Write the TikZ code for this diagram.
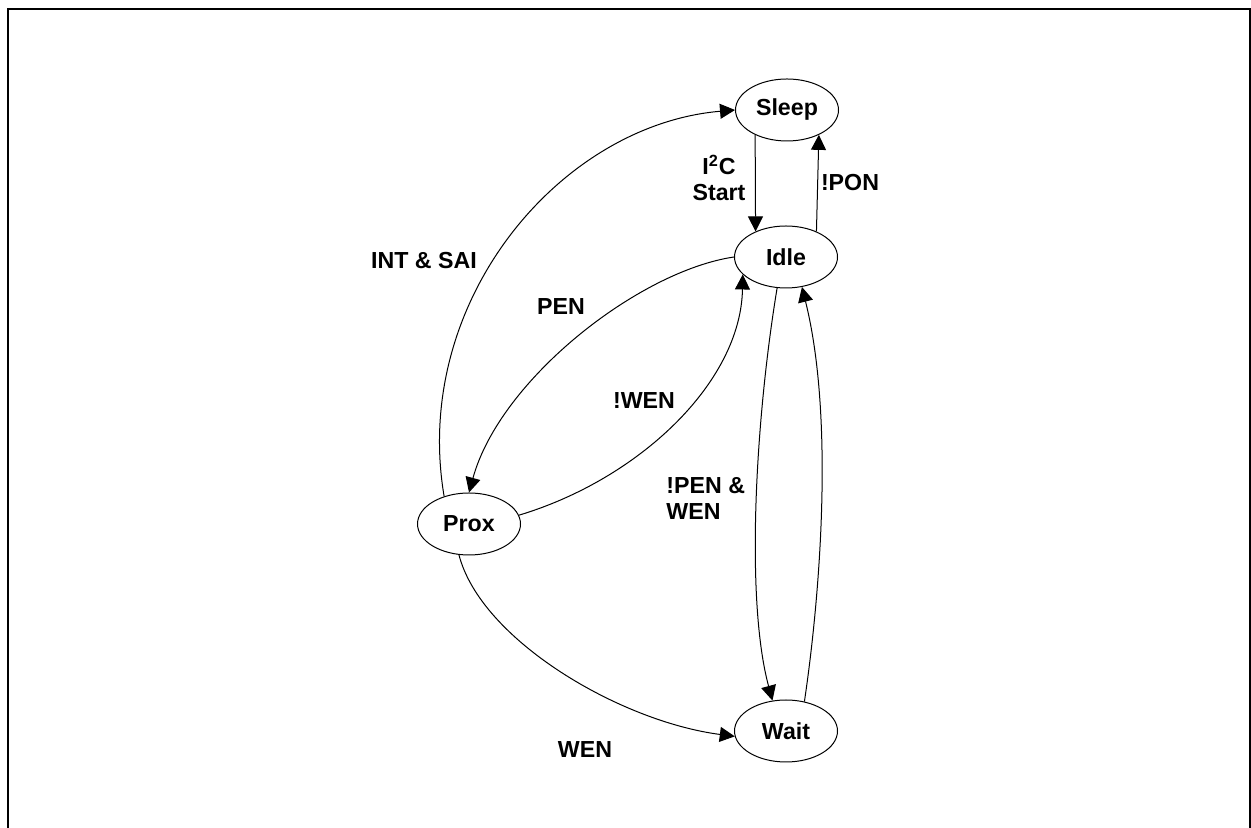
\documentclass[tikz,border=0pt]{standalone}
\usepackage{fontspec}
\setmainfont{Liberation Sans}
\usetikzlibrary{shapes.geometric,arrows.meta}
\begin{document}
\begin{tikzpicture}[x=0.5pt,y=0.5pt,
  state/.style={draw,ellipse,line width=0.5pt,minimum width=51.5pt,minimum height=31pt,inner sep=0pt,
    font=\fontsize{11.6}{13}\selectfont\bfseries},
  lbl/.style={font=\fontsize{11.6}{13}\selectfont\bfseries,inner sep=0pt,align=center},
  arr/.style={line width=0.5pt,-{Triangle[length=7.5pt,width=7.5pt]}}]
\useasboundingbox (0,0) rectangle (1251,828);
\draw[line width=1pt] (8,0) -- (8,819) -- (1250,819) -- (1250,0);
\node[state] (sleep) at (787,718) {Sleep};
\node[state] (idle) at (786,571) {Idle};
\node[state] (prox) at (469,304) {Prox};
\node[state] (wait) at (786,97) {Wait};
\draw[arr] (sleep.-142) -- (idle.140);
\draw[arr] (idle.40) -- (sleep.-38);
\draw[arr] (prox.132) .. controls +(-33,195) and +(-175,-15) .. (sleep.180);
\draw[arr] (idle.180) .. controls +(-95,-14) and +(31,113) .. (prox.90);
\draw[arr] (prox.10) .. controls +(120,36) and +(-2,-108) .. (idle.-158);
\draw[arr] (idle.-106) .. controls +(-22,-133) and +(-27,100) .. (wait.114);
\draw[arr] (wait.58) .. controls +(15,101) and +(33,-133) .. (idle.-62);
\draw[arr] (prox.-108) .. controls +(22,-85) and +(-115,15) .. (wait.186);
\node[lbl] (l1) at (719,650) {I\textsuperscript{2}C\\Start};
\node[lbl] (l2) at (850,645) {!PON};
\node[lbl] (l3) at (424,567.5) {INT \& SAI};
\node[lbl] (l4) at (561,521.5) {PEN};
\node[lbl] (l5) at (644,427.5) {!WEN};
\node[lbl,align=left,anchor=west] (l6) at (666,330) {!PEN \&\\WEN};
\node[lbl] (l7) at (585,78) {WEN};
\end{tikzpicture}
\end{document}
